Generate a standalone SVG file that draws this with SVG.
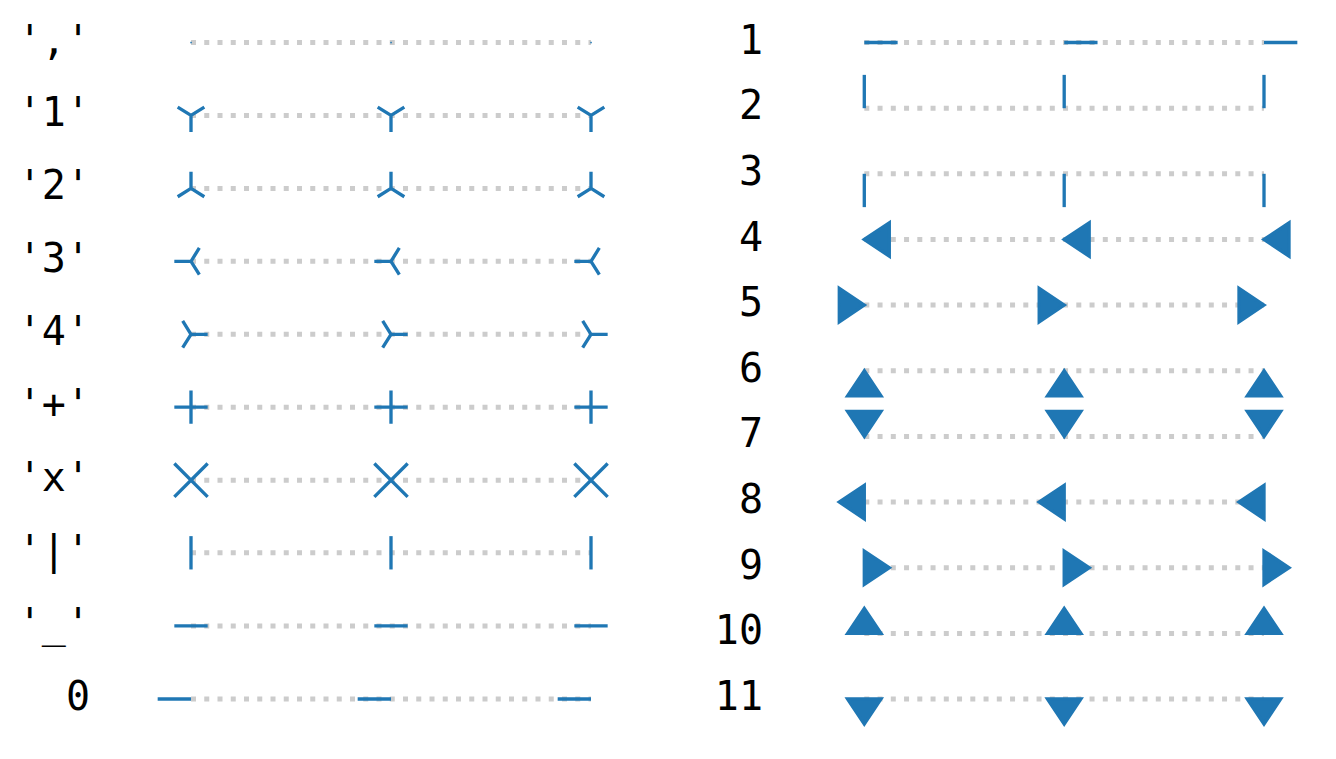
<svg xmlns="http://www.w3.org/2000/svg" width="1336" height="759" viewBox="0 0 1336 759">
<style>
.lbl{font-family:"DejaVu Sans Mono","Liberation Mono",monospace;font-size:40px;fill:#000;text-anchor:end}
.dot{stroke:#cccccc;stroke-width:5;stroke-dasharray:5 8.25;fill:none}
.mk{stroke:#1f77b4;stroke-width:3.33;fill:none;stroke-linecap:butt;stroke-linejoin:miter}
.fm{fill:#1f77b4;stroke:#1f77b4;stroke-width:3.33;stroke-linejoin:miter;stroke-miterlimit:4}
.px{fill:#1f77b4}
</style>
<defs>
<path id="m-tri-down" class="mk" d="M0 0V16.67M0 0L13.33 -8.33M0 0L-13.33 -8.33"/>
<path id="m-tri-up" class="mk" d="M0 0V-16.67M0 0L13.33 8.33M0 0L-13.33 8.33"/>
<path id="m-tri-left" class="mk" d="M0 0H-16.67M0 0L8.33 -13.33M0 0L8.33 13.33"/>
<path id="m-tri-right" class="mk" d="M0 0H16.67M0 0L-8.33 -13.33M0 0L-8.33 13.33"/>
<path id="m-plus" class="mk" d="M-16.67 0H16.67M0 -16.67V16.67"/>
<path id="m-x" class="mk" d="M-16.67 -16.67L16.67 16.67M-16.67 16.67L16.67 -16.67"/>
<path id="m-vline" class="mk" d="M0 -16.67V16.67"/>
<path id="m-hline" class="mk" d="M-16.67 0H16.67"/>
<path id="m-tickleft" class="mk" d="M0 0H-33.33"/>
<path id="m-tickright" class="mk" d="M0 0H33.33"/>
<path id="m-tickup" class="mk" d="M0 0V-33.33"/>
<path id="m-tickdown" class="mk" d="M0 0V33.33"/>
<path id="m-caretleft" class="fm" d="M0 0L25 -16.67L25 16.67Z"/>
<path id="m-caretright" class="fm" d="M0 0L-25 -16.67L-25 16.67Z"/>
<path id="m-caretup" class="fm" d="M0 0L-16.67 25L16.67 25Z"/>
<path id="m-caretdown" class="fm" d="M0 0L-16.67 -25L16.67 -25Z"/>
<path id="m-caretleftbase" class="fm" d="M0 -16.67L-25 0L0 16.67Z"/>
<path id="m-caretrightbase" class="fm" d="M0 -16.67L25 0L0 16.67Z"/>
<path id="m-caretupbase" class="fm" d="M-16.67 0L0 -25L16.67 0Z"/>
<path id="m-caretdownbase" class="fm" d="M-16.67 0L0 25L16.67 0Z"/>
</defs>
<rect width="1336" height="759" fill="#ffffff"/>
<g id="connectors">
<line class="dot" x1="191" y1="42.5" x2="591" y2="42.5"/>
<line class="dot" x1="191" y1="115.4" x2="591" y2="115.4"/>
<line class="dot" x1="191" y1="188.4" x2="591" y2="188.4"/>
<line class="dot" x1="191" y1="261.3" x2="591" y2="261.3"/>
<line class="dot" x1="191" y1="334.3" x2="591" y2="334.3"/>
<line class="dot" x1="191" y1="407.2" x2="591" y2="407.2"/>
<line class="dot" x1="191" y1="480.2" x2="591" y2="480.2"/>
<line class="dot" x1="191" y1="552.8" x2="591" y2="552.8"/>
<line class="dot" x1="191" y1="625.9" x2="591" y2="625.9"/>
<line class="dot" x1="191" y1="699" x2="591" y2="699"/>
<line class="dot" x1="864.3" y1="42.5" x2="1264" y2="42.5"/>
<line class="dot" x1="864.3" y1="108.2" x2="1264" y2="108.2"/>
<line class="dot" x1="864.3" y1="173.8" x2="1264" y2="173.8"/>
<line class="dot" x1="864.3" y1="239.5" x2="1264" y2="239.5"/>
<line class="dot" x1="864.3" y1="305.1" x2="1264" y2="305.1"/>
<line class="dot" x1="864.3" y1="370.8" x2="1264" y2="370.8"/>
<line class="dot" x1="864.3" y1="436.4" x2="1264" y2="436.4"/>
<line class="dot" x1="864.3" y1="502.1" x2="1264" y2="502.1"/>
<line class="dot" x1="864.3" y1="567.7" x2="1264" y2="567.7"/>
<line class="dot" x1="864.3" y1="633.4" x2="1264" y2="633.4"/>
<line class="dot" x1="864.3" y1="699" x2="1264" y2="699"/>
</g>
<g id="row-pixel"><text class="lbl" x="90" y="53.5">','</text>
<rect class="px" x="190.3" y="41.8" width="1.5" height="1.5"/><rect class="px" x="390.3" y="41.8" width="1.5" height="1.5"/><rect class="px" x="590.3" y="41.8" width="1.5" height="1.5"/></g>
<g id="row-tri-down"><text class="lbl" x="90" y="126.4">'1'</text>
<use href="#m-tri-down" x="191" y="115.4"/><use href="#m-tri-down" x="391" y="115.4"/><use href="#m-tri-down" x="591" y="115.4"/></g>
<g id="row-tri-up"><text class="lbl" x="90" y="199.4">'2'</text>
<use href="#m-tri-up" x="191" y="188.4"/><use href="#m-tri-up" x="391" y="188.4"/><use href="#m-tri-up" x="591" y="188.4"/></g>
<g id="row-tri-left"><text class="lbl" x="90" y="272.3">'3'</text>
<use href="#m-tri-left" x="191" y="261.3"/><use href="#m-tri-left" x="391" y="261.3"/><use href="#m-tri-left" x="591" y="261.3"/></g>
<g id="row-tri-right"><text class="lbl" x="90" y="345.3">'4'</text>
<use href="#m-tri-right" x="191" y="334.3"/><use href="#m-tri-right" x="391" y="334.3"/><use href="#m-tri-right" x="591" y="334.3"/></g>
<g id="row-plus"><text class="lbl" x="90" y="418.2">'+'</text>
<use href="#m-plus" x="191" y="407.2"/><use href="#m-plus" x="391" y="407.2"/><use href="#m-plus" x="591" y="407.2"/></g>
<g id="row-x"><text class="lbl" x="90" y="491.2">'x'</text>
<use href="#m-x" x="191" y="480.2"/><use href="#m-x" x="391" y="480.2"/><use href="#m-x" x="591" y="480.2"/></g>
<g id="row-vline"><text class="lbl" x="90" y="563.8">'|'</text>
<use href="#m-vline" x="191" y="552.8"/><use href="#m-vline" x="391" y="552.8"/><use href="#m-vline" x="591" y="552.8"/></g>
<g id="row-hline"><text class="lbl" x="90" y="636.9">'_'</text>
<use href="#m-hline" x="191" y="625.9"/><use href="#m-hline" x="391" y="625.9"/><use href="#m-hline" x="591" y="625.9"/></g>
<g id="row-tickleft"><text class="lbl" x="90" y="710">0</text>
<use href="#m-tickleft" x="191" y="699"/><use href="#m-tickleft" x="391" y="699"/><use href="#m-tickleft" x="591" y="699"/></g>
<g id="row-tickright"><text class="lbl" x="763" y="53.5">1</text>
<use href="#m-tickright" x="864.3" y="42.5"/><use href="#m-tickright" x="1064.2" y="42.5"/><use href="#m-tickright" x="1264" y="42.5"/></g>
<g id="row-tickup"><text class="lbl" x="763" y="119.2">2</text>
<use href="#m-tickup" x="864.3" y="108.2"/><use href="#m-tickup" x="1064.2" y="108.2"/><use href="#m-tickup" x="1264" y="108.2"/></g>
<g id="row-tickdown"><text class="lbl" x="763" y="184.8">3</text>
<use href="#m-tickdown" x="864.3" y="173.8"/><use href="#m-tickdown" x="1064.2" y="173.8"/><use href="#m-tickdown" x="1264" y="173.8"/></g>
<g id="row-caretleft"><text class="lbl" x="763" y="250.5">4</text>
<use href="#m-caretleft" x="864.3" y="239.5"/><use href="#m-caretleft" x="1064.2" y="239.5"/><use href="#m-caretleft" x="1264" y="239.5"/></g>
<g id="row-caretright"><text class="lbl" x="763" y="316.1">5</text>
<use href="#m-caretright" x="864.3" y="305.1"/><use href="#m-caretright" x="1064.2" y="305.1"/><use href="#m-caretright" x="1264" y="305.1"/></g>
<g id="row-caretup"><text class="lbl" x="763" y="381.8">6</text>
<use href="#m-caretup" x="864.3" y="370.8"/><use href="#m-caretup" x="1064.2" y="370.8"/><use href="#m-caretup" x="1264" y="370.8"/></g>
<g id="row-caretdown"><text class="lbl" x="763" y="447.4">7</text>
<use href="#m-caretdown" x="864.3" y="436.4"/><use href="#m-caretdown" x="1064.2" y="436.4"/><use href="#m-caretdown" x="1264" y="436.4"/></g>
<g id="row-caretleftbase"><text class="lbl" x="763" y="513.1">8</text>
<use href="#m-caretleftbase" x="864.3" y="502.1"/><use href="#m-caretleftbase" x="1064.2" y="502.1"/><use href="#m-caretleftbase" x="1264" y="502.1"/></g>
<g id="row-caretrightbase"><text class="lbl" x="763" y="578.7">9</text>
<use href="#m-caretrightbase" x="864.3" y="567.7"/><use href="#m-caretrightbase" x="1064.2" y="567.7"/><use href="#m-caretrightbase" x="1264" y="567.7"/></g>
<g id="row-caretupbase"><text class="lbl" x="763" y="644.4">10</text>
<use href="#m-caretupbase" x="864.3" y="633.4"/><use href="#m-caretupbase" x="1064.2" y="633.4"/><use href="#m-caretupbase" x="1264" y="633.4"/></g>
<g id="row-caretdownbase"><text class="lbl" x="763" y="710">11</text>
<use href="#m-caretdownbase" x="864.3" y="699"/><use href="#m-caretdownbase" x="1064.2" y="699"/><use href="#m-caretdownbase" x="1264" y="699"/></g>
</svg>
